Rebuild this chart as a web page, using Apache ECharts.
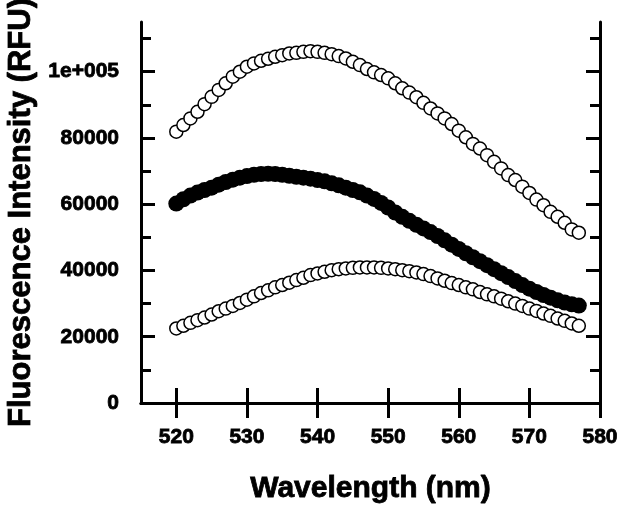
<!DOCTYPE html>
<html>
<head>
<meta charset="utf-8">
<script src="https://cdn.jsdelivr.net/npm/echarts@6/dist/echarts.min.js"></script>
<style>
html,body{margin:0;padding:0;background:#fff;}
#chart{width:623px;height:509px;}
</style>
</head>
<body>
<div id="chart"></div>
<script>
// Wavelengths (nm)
var wavelengths = [520,521,522,523,524,525,526,527,528,529,530,531,532,533,534,535,536,537,538,539,
  540,541,542,543,544,545,546,547,548,549,550,551,552,553,554,555,556,557,558,559,
  560,561,562,563,564,565,566,567,568,569,570,571,572,573,574,575,576,577];

// Upper open-circle spectrum (RFU)
var upperSeries = [81900,83900,85900,87900,90200,92400,94500,96500,98500,100000,
  101500,102500,103300,103900,104500,105000,105500,105700,106000,106200,
  106000,105700,105300,104700,104000,103000,102000,100800,99800,99000,
  98000,96500,95000,93700,92300,90600,88900,87400,85900,84200,
  82200,80200,78200,76800,74800,72800,70800,68800,67300,65300,
  63400,61400,59700,57700,56200,54400,52400,51400];

// Filled-circle spectrum (RFU)
var filledSeries = [60200,61500,62600,63500,64300,65000,65900,66700,67400,68000,
  68500,68900,69100,69200,69100,68900,68600,68300,68000,67700,
  67300,66900,66300,65700,65000,64300,63600,62600,61600,60400,
  59000,57500,56200,55000,53800,52700,51600,50400,49100,47800,
  46500,45200,44000,42800,41600,40400,39200,38000,36800,35600,
  34500,33500,32600,31800,31000,30300,29800,29400];

// Lower open-circle spectrum (RFU)
var lowerSeries = [22500,23300,24200,25000,25800,26700,27700,28500,29300,30200,
  31200,32200,33200,34000,34900,35600,36300,37100,37800,38600,
  39100,39600,40100,40400,40600,40800,40900,40900,40900,40800,
  40600,40400,40100,39800,39400,38900,38300,37600,36900,36200,
  35600,34900,34300,33500,32800,32200,31500,30700,30000,29300,
  28500,27800,27000,26300,25500,24800,24000,23300];

var xTicks = [520,530,540,550,560,570,580];
var yMajorTicks = [0,20000,40000,60000,80000,100000];
var yMinorTicks = [10000,30000,50000,70000,90000,110000];
var yTickLabels = ['0','20000','40000','60000','80000','1e+005'];

var FONT = '"Liberation Sans", Arial, sans-serif';

function pairs(ys){ return wavelengths.map(function(w,i){ return [w, ys[i]]; }); }

var chart = echarts.init(document.getElementById('chart'), null, {renderer:'canvas'});

var lineStyle = {color:'#000', width:3};
var yBase = {type:'value', min:0, max:115000, splitLine:{show:false}};
var tickFont = {color:'#000', fontFamily:FONT, fontWeight:'bold', fontSize:21, textBorderColor:'#000', textBorderWidth:0.8};
var titleFont = {color:'#000', fontFamily:FONT, fontWeight:'bold', fontSize:30, textBorderColor:'#000', textBorderWidth:0.8};

chart.setOption({
  animation:false,
  backgroundColor:'#fff',
  grid:{left:141, right:23, top:22, bottom:106, containLabel:false, outerBoundsMode:'none'},
  xAxis:[
    {type:'value', position:'bottom', min:515, max:580,
     axisLine:{show:true, lineStyle:lineStyle},
     axisTick:{show:true, inside:true, length:15, customValues:xTicks, lineStyle:{color:'#000', width:3}},
     axisLabel:Object.assign({show:true, customValues:xTicks, margin:24}, tickFont),
     splitLine:{show:false},
     name:'Wavelength (nm)', nameLocation:'middle', nameGap:71,
     nameTextStyle:titleFont},
    {type:'value', position:'top', min:515, max:580,
     axisLine:{show:true, lineStyle:lineStyle},
     axisTick:{show:true, inside:true, length:15, customValues:xTicks, lineStyle:{color:'#000', width:3}},
     axisLabel:{show:false}, splitLine:{show:false}}
  ],
  yAxis:[
    Object.assign({}, yBase, {position:'left',
     axisLine:{show:true, lineStyle:lineStyle},
     axisTick:{show:true, inside:true, length:14, customValues:yMajorTicks, lineStyle:{color:'#000', width:3}},
     axisLabel:Object.assign({show:true, customValues:yMajorTicks, margin:22,
       formatter:function(v){ var i = yMajorTicks.indexOf(v); return i>=0 ? yTickLabels[i] : ''; }}, tickFont),
     name:'Fluorescence Intensity (RFU)', nameLocation:'middle', nameGap:103, nameRotate:90,
     nameTextStyle:Object.assign({}, titleFont, {fontSize:31})}),
    Object.assign({}, yBase, {position:'left',
     axisLine:{show:false},
     axisTick:{show:true, inside:true, length:10, customValues:yMinorTicks, lineStyle:{color:'#000', width:3}},
     axisLabel:{show:false}}),
    Object.assign({}, yBase, {position:'right',
     axisLine:{show:true, lineStyle:lineStyle},
     axisTick:{show:true, inside:true, length:14, customValues:yMajorTicks, lineStyle:{color:'#000', width:3}},
     axisLabel:{show:false}}),
    Object.assign({}, yBase, {position:'right',
     axisLine:{show:false},
     axisTick:{show:true, inside:true, length:10, customValues:yMinorTicks, lineStyle:{color:'#000', width:3}},
     axisLabel:{show:false}})
  ],
  series:[
    {type:'scatter', xAxisIndex:0, yAxisIndex:0, data:pairs(upperSeries), symbol:'circle', symbolSize:13,
     itemStyle:{color:'#fff', borderColor:'#000', borderWidth:1.5, opacity:1}},
    {type:'scatter', xAxisIndex:0, yAxisIndex:0, data:pairs(lowerSeries), symbol:'circle', symbolSize:13,
     itemStyle:{color:'#fff', borderColor:'#000', borderWidth:1.5, opacity:1}},
    {type:'scatter', xAxisIndex:0, yAxisIndex:0, data:pairs(filledSeries), symbol:'circle', symbolSize:16,
     itemStyle:{color:'#000', borderColor:'#000', borderWidth:0, opacity:1}}
  ]
});
</script>
</body>
</html>
